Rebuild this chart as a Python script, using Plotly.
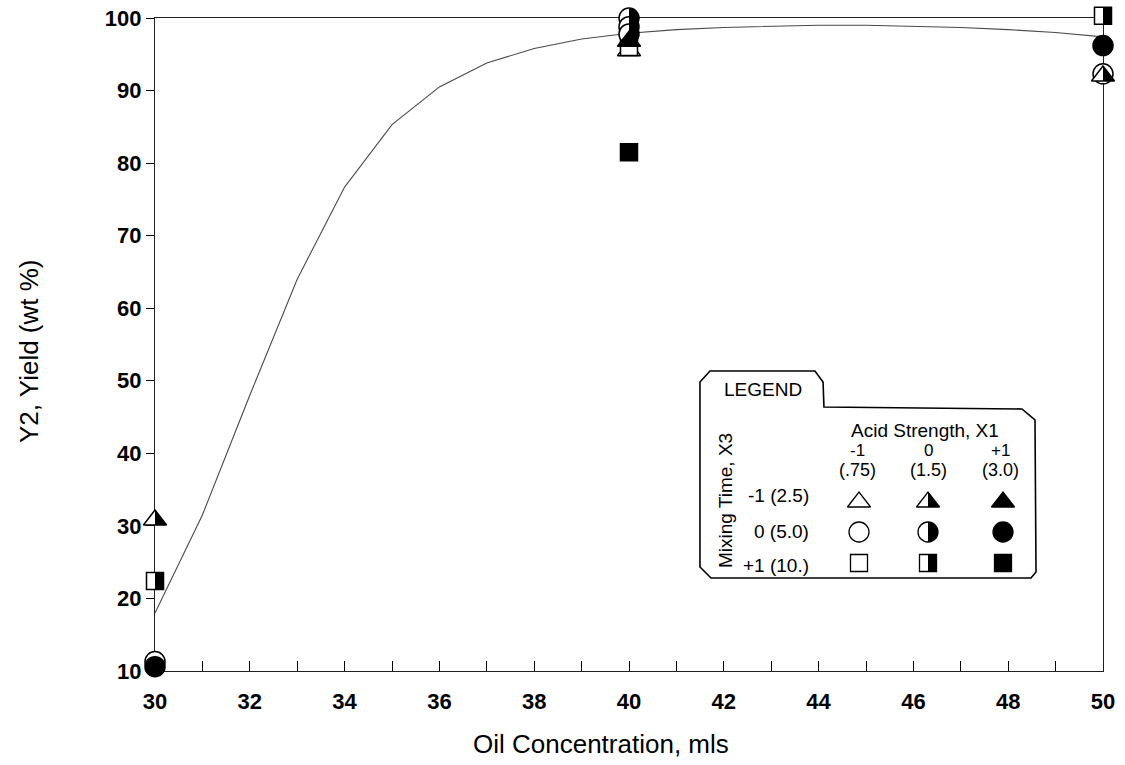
import math
import plotly.graph_objects as go

# Runs: oil concentration (mls), yield Y2 (wt %), coded acid strength X1 and mixing time X3
oil_mls = [30, 30, 30, 30, 40, 40, 40, 40, 40, 40, 40, 50, 50, 50, 50]
yield_wt = [30.8, 22.4, 11.3, 10.6, 95.5, 96.0, 100.0, 98.8, 97.8, 96.8, 81.5, 100.3, 96.2, 92.3, 92.0]
acid_x1 = [0, 0, -1, 1, -1, -1, 0, 0, 0, 1, 1, 0, 1, -1, 0]
mixing_x3 = [-1, 1, 0, 0, -1, 1, 0, 0, 0, -1, 1, 1, 0, 0, -1]

# Fitted response curve
fit_oil = list(range(30, 51))
fit_yield = [18.0, 31.5, 48.0, 64.0, 76.7, 85.3, 90.5, 93.8, 95.8, 97.1, 97.9,
             98.4, 98.7, 98.9, 99.0, 99.0, 98.9, 98.7, 98.4, 98.0, 97.4]

# Axis ticks
x_ticks = list(range(30, 51))
y_ticks = list(range(10, 101, 10))
X_RANGE = [30, 50]
Y_RANGE = [10, 100]

# Legend labels
acid_codes = ["-1", "0", "+1"]
acid_values = ["(.75)", "(1.5)", "(3.0)"]
mixing_labels = ["-1 (2.5)", "0 (5.0)", "+1 (10.)"]
levels = [-1, 0, 1]

W, H = 1125, 765
PL, PR, PT, PB = 155, 1103, 18, 671   # plot-area edges in pixels

FONT = "Liberation Sans, Arial, sans-serif"

SYMBOL = {-1: "triangle-up", 0: "circle", 1: "square"}
SIZE = {-1: 20, 0: 20, 1: 17}
FILL = {-1: "white", 0: "white", 1: "black"}


def fx(px):
    return px / W


def fy(py):
    return 1 - py / H


# Full-figure overlay axis sharing the data scale, so markers at the frame are not clipped
x_per_px = (X_RANGE[1] - X_RANGE[0]) / (PR - PL)
y_per_px = (Y_RANGE[1] - Y_RANGE[0]) / (PB - PT)
x3_range = [X_RANGE[0] - PL * x_per_px, X_RANGE[1] + (W - PR) * x_per_px]
y3_range = [Y_RANGE[0] - (H - PB) * y_per_px, Y_RANGE[1] + PT * y_per_px]


def half_path(kind, size):
    """Right-hand black half of a marker, in pixels about its centre."""
    r = size / 2
    if kind == -1:
        rt = r * 2 / math.sqrt(3)
        return f"M0,{r} L{rt:.2f},{-r/2} L0,{-r/2} Z"
    if kind == 1:
        return f"M0,{-r} L{r},{-r} L{r},{r} L0,{r} Z"
    pts = []
    for i in range(25):
        a = -math.pi / 2 + math.pi * i / 24
        pts.append(f"{r*math.cos(a):.2f},{r*math.sin(a):.2f}")
    return "M" + " L".join(pts) + " Z"


def half_shape(xref, yref, x, y, kind):
    return dict(type="path", xref=xref, yref=yref, xsizemode="pixel", ysizemode="pixel",
                xanchor=x, yanchor=y, path=half_path(kind, SIZE[kind]),
                fillcolor="black", line=dict(width=0), layer="above")


fig = go.Figure()

fig.add_trace(go.Scatter(
    x=fit_oil, y=fit_yield, mode="lines",
    line=dict(color="#4a4a4a", width=1.1), cliponaxis=False, showlegend=False,
))

fig.add_trace(go.Scatter(
    x=oil_mls, y=yield_wt, xaxis="x3", yaxis="y3", mode="markers",
    cliponaxis=False, showlegend=False,
    marker=dict(
        symbol=[SYMBOL[m] for m in mixing_x3],
        size=[SIZE[m] for m in mixing_x3],
        color=[FILL[a] for a in acid_x1],
        opacity=1,
        line=dict(color="black", width=1.5),
    ),
))

shapes = []
for xv, yv, a, m in zip(oil_mls, yield_wt, acid_x1, mixing_x3):
    if a == 0:
        shapes.append(half_shape("x3", "y3", xv, yv, m))

# Legend panel with tab
frame_px = [(700, 567), (700, 382), (710, 371), (815, 371), (823, 382), (824, 407),
            (1022, 409), (1035, 420), (1036, 572), (1031, 578), (711, 578)]
frame_path = "M" + " L".join(f"{fx(px):.4f},{fy(py):.4f}" for px, py in frame_px) + " Z"
shapes.append(dict(type="path", xref="paper", yref="paper", path=frame_path,
                   fillcolor="white", line=dict(color="black", width=1.6), layer="below"))

# Legend symbols on an overlay axis matching paper coordinates
col_px = [859, 928, 1003]
row_px = {-1: 502, 0: 532, 1: 563}
lx, ly, lsym, lsize, lcol = [], [], [], [], []
for m in levels:
    for ci, a in enumerate(levels):
        lx.append(fx(col_px[ci]))
        ly.append(fy(row_px[m]))
        lsym.append(SYMBOL[m])
        lsize.append(SIZE[m])
        lcol.append(FILL[a])
        if a == 0:
            shapes.append(half_shape("x2", "y2", fx(col_px[ci]), fy(row_px[m]), m))

fig.add_trace(go.Scatter(
    x=lx, y=ly, xaxis="x2", yaxis="y2", mode="markers", showlegend=False, cliponaxis=False,
    marker=dict(symbol=lsym, size=lsize, color=lcol, opacity=1,
                line=dict(color="black", width=1.3)),
))

ann = []
def text(px, py, s, size=19, xanchor="center", angle=0):
    ann.append(dict(x=fx(px), y=fy(py), xref="paper", yref="paper", text=s, showarrow=False,
                    xanchor=xanchor, yanchor="middle", textangle=angle,
                    font=dict(family=FONT, size=size, color="black")))

text(763, 389, "LEGEND", 19)
text(925, 430, "Acid Strength, X1", 19)
for cx, c, v in zip([857, 928, 1000], acid_codes, acid_values):
    text(cx, 450, c, 17)
    text(cx, 470, v, 18)
for m, lab in zip(levels, mixing_labels):
    text(811, {-1: 495, 0: 531, 1: 565}[m], lab, 19, xanchor="right")
text(725, 501, "Mixing Time, X3", 19, angle=-90)

# Axis titles
text(601, 744, "Oil Concentration, mls", 26)
text(29, 351, "Y2, Yield (wt %)", 26, angle=-90)

fig.update_layout(
    width=W, height=H,
    margin=dict(l=0, r=0, t=0, b=0, pad=0, autoexpand=False),
    paper_bgcolor="white", plot_bgcolor="rgba(0,0,0,0)",
    showlegend=False,
    shapes=shapes, annotations=ann,
    xaxis=dict(
        domain=[PL / W, PR / W],
        range=X_RANGE, tickmode="array", tickvals=x_ticks,
        ticktext=[str(v) if v % 2 == 0 else "" for v in x_ticks],
        ticks="inside", ticklen=10, tickwidth=1, tickcolor="black",
        showline=True, mirror=True, linecolor="#222", linewidth=1.2,
        showgrid=False, zeroline=False, ticklabelstandoff=10,
        tickfont=dict(family=FONT, size=22, color="black", weight="bold"),
    ),
    yaxis=dict(
        domain=[1 - PB / H, 1 - PT / H],
        range=Y_RANGE, tickmode="array", tickvals=y_ticks,
        ticks="outside", ticklen=8, tickwidth=1, tickcolor="black",
        showline=True, mirror=True, linecolor="#222", linewidth=1.2,
        showgrid=False, zeroline=False,
        tickfont=dict(family=FONT, size=22, color="black", weight="bold"),
    ),
    xaxis2=dict(domain=[0, 1], range=[0, 1], visible=False, fixedrange=True, anchor="y2"),
    yaxis2=dict(domain=[0, 1], range=[0, 1], visible=False, fixedrange=True, anchor="x2"),
    xaxis3=dict(domain=[0, 1], range=x3_range, visible=False, fixedrange=True, anchor="y3"),
    yaxis3=dict(domain=[0, 1], range=y3_range, visible=False, fixedrange=True, anchor="x3"),
)

fig.write_html("out.html")
